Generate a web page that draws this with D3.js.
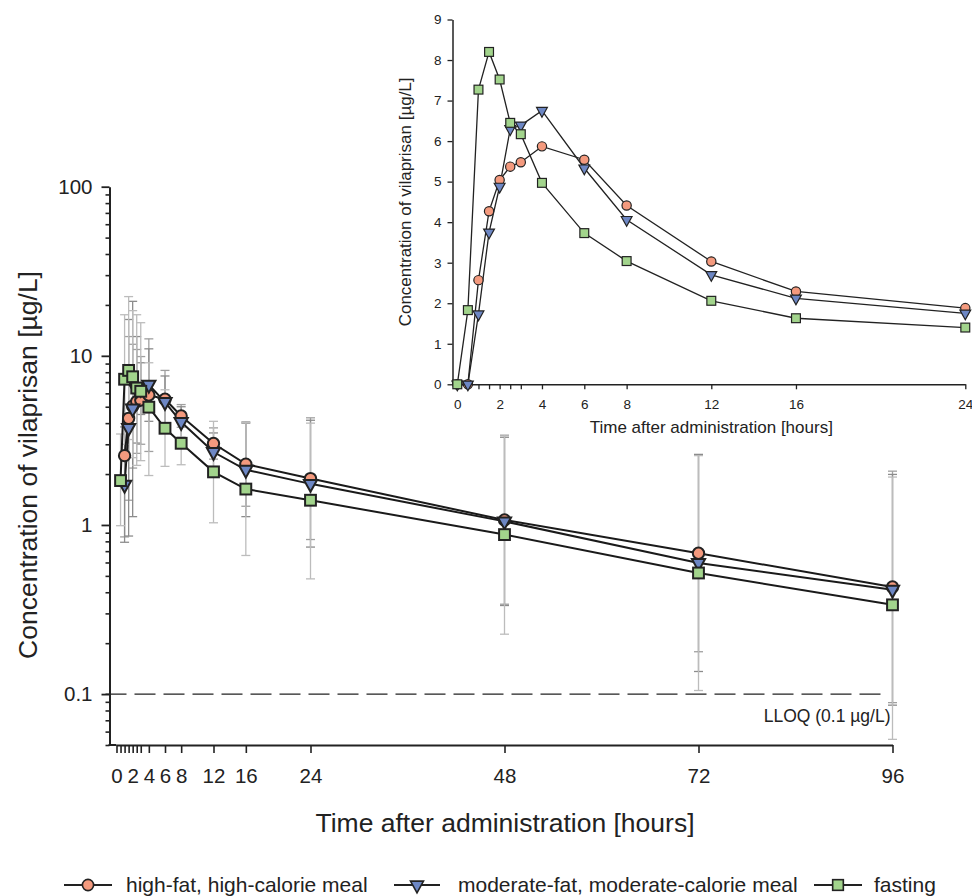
<!DOCTYPE html>
<html>
<head>
<meta charset="utf-8">
<script src="https://cdn.jsdelivr.net/npm/d3@7"></script>
<style>
    body { margin: 0; background: #fff; }
    text { font-family: Arial, "Liberation Sans", sans-serif; fill: #222; }
</style>
</head>
<body>
<div id="chart"></div>
<script>
// sampling times [hours]
var timePoints = [0, 0.5, 1, 1.5, 2, 2.5, 3, 4, 6, 8, 12, 16, 24, 48, 72, 96];

// mean concentrations [µg/L] with upper / lower error bar ends
var highFat      = [0, 0, 2.57, 4.27, 5.04, 5.37, 5.48, 5.87, 5.54, 4.41, 3.03, 2.29, 1.88, 1.07, 0.68, 0.43];
var highFatUpper = [null, null, 7.8, 13.0, 11.7, 10.9, 9.9, 12.6, 8.2, 5.15, 3.75, 4.07, 4.3, 3.38, 2.61, 2.08];
var highFatLower = [null, null, 0.85, 1.4, 2.17, 2.65, 3.0, 2.72, 3.74, 3.78, 2.45, 1.29, 0.82, 0.34, 0.178, 0.089];

var moderate      = [0, 0, 1.73, 3.75, 4.88, 6.30, 6.39, 6.75, 5.33, 4.06, 2.70, 2.12, 1.75, 1.05, 0.596, 0.414];
var moderateUpper = [null, null, 3.8, 16.4, 21.0, 13.0, 9.1, 11.0, 7.6, 5.0, 3.5, 4.0, 4.16, 3.3, 2.61, 1.99];
var moderateLower = [null, null, 0.79, 0.86, 1.12, 3.05, 4.5, 4.1, 3.74, 3.3, 2.08, 1.12, 0.74, 0.334, 0.136, 0.086];

var fasting      = [0, 1.83, 7.27, 8.20, 7.52, 6.45, 6.17, 4.97, 3.73, 3.04, 2.06, 1.63, 1.40, 0.877, 0.52, 0.337];
var fastingUpper = [null, 3.45, 17.5, 22.4, 18.5, 17.5, 15.7, 9.1, 6.3, 4.07, 4.1, 4.03, 4.0, 3.4, 2.57, 1.92];
var fastingLower = [null, 0.99, 3.0, 3.2, 2.5, 2.25, 2.4, 1.96, 2.22, 2.27, 1.03, 0.66, 0.48, 0.226, 0.105, 0.054];

var seriesNames = ["high-fat, high-calorie meal", "moderate-fat, moderate-calorie meal", "fasting"];

// tick values
var mainXTicks = [0, 0.5, 1, 1.5, 2, 2.5, 3, 4, 6, 8, 12, 16, 24, 48, 72, 96];
var mainXLabels = [0, 2, 4, 6, 8, 12, 16, 24, 48, 72, 96];
var mainYMajor = [0.1, 1, 10, 100];
var insetXTicks = [0, 0.5, 1, 1.5, 2, 2.5, 3, 4, 6, 8, 12, 16, 24];
var insetXLabels = [0, 2, 4, 6, 8, 12, 16, 24];
var insetYTicks = [0, 1, 2, 3, 4, 5, 6, 7, 8, 9];
var lloq = 0.1;

var series = [
    { name: seriesNames[0], values: highFat, upper: highFatUpper, lower: highFatLower, fill: "#f49a7e", bar: "#a0a0a0", shape: "circle" },
    { name: seriesNames[1], values: moderate, upper: moderateUpper, lower: moderateLower, fill: "#6d87c4", bar: "#8c8c8c", shape: "triangle" },
    { name: seriesNames[2], values: fasting, upper: fastingUpper, lower: fastingLower, fill: "#a2d48c", bar: "#bcbcbc", shape: "square" }
];

var svg = d3.select("#chart").append("svg")
    .attr("width", 972)
    .attr("height", 896);

// marker drawing helper
function marker(sel, shape, size, strokeW) {
    if (shape == "circle") {
        sel.append("circle").attr("r", size * 0.86);
    } else if (shape == "square") {
        sel.append("rect")
            .attr("x", -size * 0.82).attr("y", -size * 0.82)
            .attr("width", size * 1.64).attr("height", size * 1.64);
    } else {
        var w = size, t = size * 0.6, b = size * 1.2;
        sel.append("path").attr("d", "M" + (-w) + "," + (-t) + "L" + w + "," + (-t) + "L0," + b + "Z");
    }
    sel.selectAll("*").attr("stroke", "#222").attr("stroke-width", strokeW);
}

// ---------------- main chart (log scale) ----------------
var left = 109.5;
var x = d3.scaleLinear().domain([0, 96]).range([116.5, 892.5]);
var y = d3.scaleLog().domain([0.05, 100]).range([745, 186.7]);

var main = svg.append("g");

// minor y ticks
var minorTicks = y.ticks().filter(v => mainYMajor.indexOf(v) < 0);
main.append("g")
    .attr("transform", "translate(" + left + ",0)")
    .call(d3.axisLeft(y).tickValues(minorTicks).tickSize(4).tickFormat(""))
    .call(g => g.select(".domain").remove())
    .call(g => g.selectAll("line").attr("stroke", "#222").attr("stroke-width", 1.6));

main.append("g")
    .attr("class", "axis")
    .attr("transform", "translate(" + left + ",0)")
    .call(d3.axisLeft(y).tickValues(mainYMajor).tickSize(8).tickPadding(9).tickSizeOuter(0)
        .tickFormat(d => d < 1 ? String(d) : d3.format("d")(d)))
    .call(g => g.select(".domain").attr("stroke", "#222").attr("stroke-width", 2))
    .call(g => g.selectAll("line").attr("stroke", "#222").attr("stroke-width", 1.8))
    .call(g => g.selectAll("text").style("font-size", "20.5px").attr("fill", "#222"));

// x axis
main.append("line")
    .attr("x1", left - 1).attr("x2", x(0))
    .attr("y1", 745).attr("y2", 745)
    .attr("stroke", "#222").attr("stroke-width", 2);

main.append("g")
    .attr("transform", "translate(0,745)")
    .call(d3.axisBottom(x).tickValues(mainXTicks).tickSize(8).tickPadding(15).tickSizeOuter(0)
        .tickFormat(d => mainXLabels.indexOf(d) >= 0 ? d : ""))
    .call(g => g.select(".domain").attr("stroke", "#222").attr("stroke-width", 2))
    .call(g => g.selectAll("line").attr("stroke", "#222").attr("stroke-width", 1.6))
    .call(g => g.selectAll("text").style("font-size", "20.5px").attr("fill", "#222"));

// LLOQ line
main.append("line")
    .attr("x1", left - 4).attr("x2", x(96) - 5)
    .attr("y1", y(lloq)).attr("y2", y(lloq))
    .attr("stroke", "#222").attr("stroke-width", 1.4)
    .attr("stroke-dasharray", "21,8");

main.append("text")
    .attr("x", x(96) - 2)
    .attr("y", y(lloq) + 28)
    .attr("text-anchor", "end")
    .style("font-size", "17.5px")
    .text("LLOQ (0.1 µg/L)");

// error bars
series.forEach(s => {
    var pts = timePoints.map((t, i) => ({ t: t, up: s.upper[i], lo: s.lower[i] }))
        .filter(d => d.up != null);
    var g = main.append("g").attr("stroke", s.bar).attr("stroke-width", 1.3);
    g.selectAll(".bar")
        .data(pts)
        .enter().append("line")
        .attr("x1", d => x(d.t)).attr("x2", d => x(d.t))
        .attr("y1", d => y(d.up)).attr("y2", d => y(Math.max(d.lo, 0.05)));
    g.selectAll(".capU")
        .data(pts)
        .enter().append("line")
        .attr("x1", d => x(d.t) - 4.5).attr("x2", d => x(d.t) + 4.5)
        .attr("y1", d => y(d.up)).attr("y2", d => y(d.up));
    g.selectAll(".capL")
        .data(pts.filter(d => d.lo > 0.05))
        .enter().append("line")
        .attr("x1", d => x(d.t) - 4.5).attr("x2", d => x(d.t) + 4.5)
        .attr("y1", d => y(d.lo)).attr("y2", d => y(d.lo));
});

// lines and markers
var mainLine = d3.line().x(d => x(d.t)).y(d => y(d.v));
series.forEach(s => {
    var pts = timePoints.map((t, i) => ({ t: t, v: s.values[i] })).filter(d => d.v > 0);
    main.append("path")
        .datum(pts)
        .attr("fill", "none")
        .attr("stroke", "#1a1a1a")
        .attr("stroke-width", 2)
        .attr("d", mainLine);
});
series.forEach(s => {
    var pts = timePoints.map((t, i) => ({ t: t, v: s.values[i] })).filter(d => d.v > 0);
    main.selectAll(".m" + s.shape)
        .data(pts)
        .enter().append("g")
        .attr("transform", d => "translate(" + x(d.t) + "," + y(d.v) + ")")
        .attr("fill", s.fill)
        .each(function() { marker(d3.select(this), s.shape, 6.6, 2); });
});

// axis titles
main.append("text")
    .attr("x", 505)
    .attr("y", 832)
    .attr("text-anchor", "middle")
    .style("font-size", "26.5px")
    .text("Time after administration [hours]");

main.append("text")
    .attr("transform", "translate(37,465) rotate(-90)")
    .attr("text-anchor", "middle")
    .style("font-size", "26.5px")
    .text("Concentration of vilaprisan [µg/L]");

// ---------------- inset (linear scale) ----------------
var xi = d3.scaleLinear().domain([0, 24]).range([457.3, 965.3]);
var yi = d3.scaleLinear().domain([0, 9]).range([384.3, 19.5]);
var insetLeft = 452.5;

var inset = svg.append("g");

inset.append("g")
    .attr("transform", "translate(" + insetLeft + ",0)")
    .call(d3.axisLeft(yi).tickValues(insetYTicks).tickSize(5).tickPadding(6).tickSizeOuter(0))
    .call(g => g.select(".domain").attr("stroke", "#222").attr("stroke-width", 1.5))
    .call(g => g.selectAll("line").attr("stroke", "#222").attr("stroke-width", 1.3))
    .call(g => g.selectAll("text").style("font-size", "13.5px").attr("fill", "#333"));

inset.append("line")
    .attr("x1", insetLeft - 0.5).attr("x2", xi(0))
    .attr("y1", yi(0)).attr("y2", yi(0))
    .attr("stroke", "#222").attr("stroke-width", 1.5);

inset.append("g")
    .attr("transform", "translate(0," + yi(0) + ")")
    .call(d3.axisBottom(xi).tickValues(insetXTicks).tickSize(5).tickPadding(10).tickSizeOuter(0)
        .tickFormat(d => insetXLabels.indexOf(d) >= 0 ? d : ""))
    .call(g => g.select(".domain").attr("stroke", "#222").attr("stroke-width", 1.5))
    .call(g => g.selectAll("line").attr("stroke", "#222").attr("stroke-width", 1.3))
    .call(g => g.selectAll("text").style("font-size", "13.5px").attr("fill", "#333"));

var insetLine = d3.line().x(d => xi(d.t)).y(d => yi(d.v));
series.forEach(s => {
    var pts = timePoints.map((t, i) => ({ t: t, v: s.values[i] })).filter(d => d.t <= 24);
    inset.append("path")
        .datum(pts)
        .attr("fill", "none")
        .attr("stroke", "#222")
        .attr("stroke-width", 1.3)
        .attr("d", insetLine);
});
series.forEach(s => {
    var pts = timePoints.map((t, i) => ({ t: t, v: s.values[i] })).filter(d => d.t <= 24);
    inset.selectAll(".i" + s.shape)
        .data(pts)
        .enter().append("g")
        .attr("transform", d => "translate(" + xi(d.t) + "," + yi(d.v) + ")")
        .attr("fill", s.fill)
        .each(function() { marker(d3.select(this), s.shape, 5.4, 1.2); });
});

inset.append("text")
    .attr("x", (xi(0) + xi(24)) / 2)
    .attr("y", 433)
    .attr("text-anchor", "middle")
    .style("font-size", "17px")
    .text("Time after administration [hours]");

inset.append("text")
    .attr("transform", "translate(411," + ((yi(0) + yi(9)) / 2) + ") rotate(-90)")
    .attr("text-anchor", "middle")
    .style("font-size", "17px")
    .text("Concentration of vilaprisan [µg/L]");

// ---------------- legend ----------------
var legendPos = [
    { lx1: 64, lx2: 112, mx: 88, tx: 126 },
    { lx1: 394, lx2: 440, mx: 417, tx: 458 },
    { lx1: 814, lx2: 862, mx: 838, tx: 874 }
];
var legend = svg.append("g");
series.forEach((s, i) => {
    var p = legendPos[i];
    legend.append("line")
        .attr("x1", p.lx1).attr("x2", p.lx2)
        .attr("y1", 885).attr("y2", 885)
        .attr("stroke", "#222").attr("stroke-width", 2);
    var m = legend.append("g")
        .attr("transform", "translate(" + p.mx + ",885)")
        .attr("fill", s.fill);
    marker(m, s.shape, 6.5, 1.6);
    legend.append("text")
        .attr("x", p.tx)
        .attr("y", 892)
        .style("font-size", "21px")
        .text(s.name);
});
</script>
</body>
</html>
